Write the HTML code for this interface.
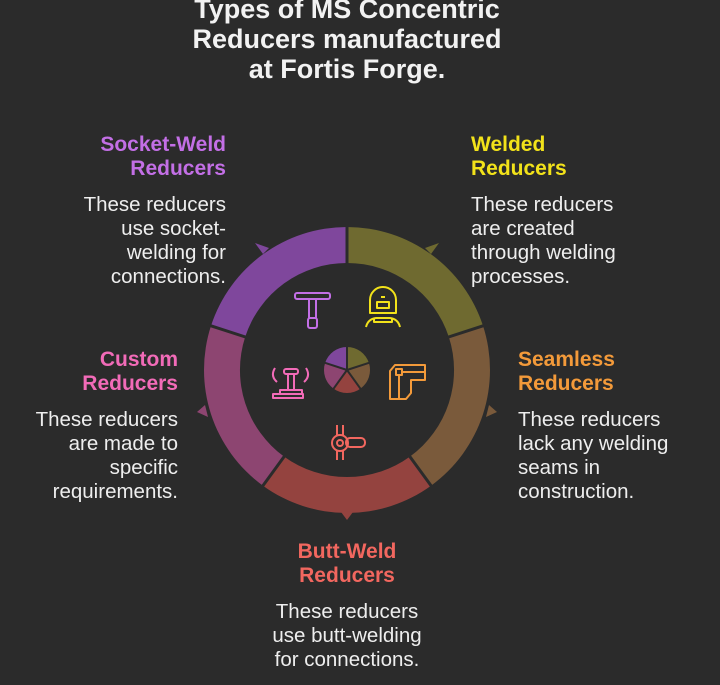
<!DOCTYPE html>
<html><head><meta charset="utf-8"><style>
body{margin:0;background:#2b2b2b;width:720px;height:685px;overflow:hidden;position:relative;font-family:"Liberation Sans",sans-serif;}
.t{position:absolute;font-size:20.5px;line-height:24px;color:#eee;white-space:nowrap}
.h{font-weight:bold;font-size:21px}
.r{text-align:right}.c{text-align:center}
</style></head><body>
<div class="t c h" style="left:97px;width:500px;top:-6px;font-size:27px;line-height:30px;color:#f2f2f2">Types of MS Concentric<br>Reducers manufactured<br>at Fortis Forge.</div>

<div class="t r" style="right:494px;top:133px"><span class="h" style="color:#c36fe6">Socket-Weld<br>Reducers</span><br><span style="display:block;margin-top:12px">These reducers<br>use socket-<br>welding for<br>connections.</span></div>
<div class="t" style="left:471px;top:133px"><span class="h" style="color:#f2e21a">Welded<br>Reducers</span><br><span style="display:block;margin-top:12px">These reducers<br>are created<br>through welding<br>processes.</span></div>
<div class="t" style="left:518px;top:348px"><span class="h" style="color:#f39a3a">Seamless<br>Reducers</span><br><span style="display:block;margin-top:12px">These reducers<br>lack any welding<br>seams in<br>construction.</span></div>
<div class="t r" style="right:542px;top:348px"><span class="h" style="color:#f26bb8">Custom<br>Reducers</span><br><span style="display:block;margin-top:12px">These reducers<br>are made to<br>specific<br>requirements.</span></div>
<div class="t c" style="left:197px;width:300px;top:540px"><span class="h" style="color:#f2675f">Butt-Weld<br>Reducers</span><br><span style="display:block;margin-top:12px">These reducers<br>use butt-welding<br>for connections.</span></div>

<svg width="720" height="685" style="position:absolute;left:0;top:0" viewBox="0 0 720 685">
<g transform="translate(347,370)">
<path d="M0,-143 A143,143 0 0 1 136,-44.2 L101.8,-33.1 A107,107 0 0 0 0,-107 Z" fill="#6f6a30"/>
<path d="M136,-44.2 A143,143 0 0 1 84,115.7 L62.9,86.6 A107,107 0 0 0 101.8,-33.1 Z" fill="#7a5a3b"/>
<path d="M84,115.7 A143,143 0 0 1 -84,115.7 L-62.9,86.6 A107,107 0 0 0 62.9,86.6 Z" fill="#94433f"/>
<path d="M-84,115.7 A143,143 0 0 1 -136,-44.2 L-101.8,-33.1 A107,107 0 0 0 -62.9,86.6 Z" fill="#8d4571"/>
<path d="M-136,-44.2 A143,143 0 0 1 0,-143 L0,-107 A107,107 0 0 0 -101.8,-33.1 Z" fill="#7f479c"/>
<g stroke="#2b2b2b" stroke-width="3">
<line x1="0" y1="-145" x2="0" y2="-105"/><line x1="138" y1="-44.8" x2="100" y2="-32.5"/>
<line x1="85.2" y1="117.3" x2="61.7" y2="85"/><line x1="-85.2" y1="117.3" x2="-61.7" y2="85"/>
<line x1="-138" y1="-44.8" x2="-100" y2="-32.5"/></g>
<polygon points="84,-116 92,-127 78,-122" fill="#6f6a30"/>
<polygon points="142,35 150,42 139,47" fill="#7a5a3b"/>
<polygon points="-6,142 0,150 6,142" fill="#94433f"/>
<polygon points="-142,35 -150,42 -139,47" fill="#8d4571"/>
<polygon points="-84,-116 -92,-127 -78,-122" fill="#7f479c"/>
<path d="M0,0 L0,-23 A23,23 0 0 1 21.9,-7.1 Z" fill="#6f6a30"/>
<path d="M0,0 L21.9,-7.1 A23,23 0 0 1 13.5,18.6 Z" fill="#7a5a3b"/>
<path d="M0,0 L13.5,18.6 A23,23 0 0 1 -13.5,18.6 Z" fill="#94433f"/>
<path d="M0,0 L-13.5,18.6 A23,23 0 0 1 -21.9,-7.1 Z" fill="#8d4571"/>
<path d="M0,0 L-21.9,-7.1 A23,23 0 0 1 0,-23 Z" fill="#7f479c"/>
<g stroke="#2b2b2b" stroke-width="2"><line x1="0" y1="0" x2="0" y2="-24"/><line x1="0" y1="0" x2="22.8" y2="-7.4"/><line x1="0" y1="0" x2="14" y2="19.4"/><line x1="0" y1="0" x2="-14" y2="19.4"/><line x1="0" y1="0" x2="-22.8" y2="-7.4"/></g>
</g>
<g fill="none" stroke-width="2" stroke-linejoin="round">
<g stroke="#c36fe6"><rect x="295" y="293" width="35" height="6" rx="2"/><path d="M309,299 V318 M316,299 V318"/><rect x="308" y="318" width="9" height="10" rx="2"/></g>
<g stroke="#f2e21a"><path d="M370,313 V300 a13,13 0 0 1 26,0 V313 Z"/><rect x="377" y="302" width="12" height="6"/><path d="M381,297 h4"/><path d="M366,327 q2,-8 10,-9 h14 q8,1 10,9"/><path d="M374,318 v4 h18 v-4"/></g>
<g stroke="#f39a3a"><path d="M390,399 V371 l5,-6 H425 V380 H411 V393 l-5,6 Z"/><rect x="396" y="369" width="6" height="6"/><path d="M399,375 V399 M402,372 H425"/></g>
<g stroke="#f26bb8"><rect x="284" y="369" width="14" height="5" rx="2"/><path d="M288,374 V390 M294,374 V390"/><rect x="280" y="390" width="22" height="4"/><rect x="273" y="394" width="30" height="4"/><path d="M275,368 q-5,8 2,14 M306,368 q5,8 -2,14"/></g>
<g stroke="#f2675f"><path d="M337,425 V435 M343,425 V435 M337,451 V460 M343,451 V460"/><circle cx="340" cy="443" r="8"/><circle cx="340" cy="443" r="3"/><rect x="346" y="438" width="19" height="9" rx="4"/></g>
</g>
</svg>
</body></html>
